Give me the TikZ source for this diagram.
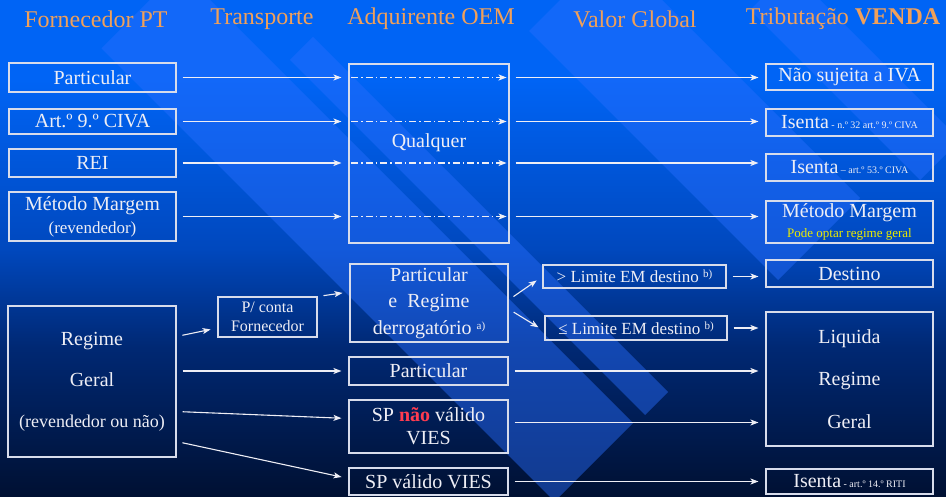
\documentclass[tikz,border=0pt]{standalone}
\usepackage{fontspec}
\setmainfont{Liberation Serif}
\usetikzlibrary{arrows.meta,positioning}

\definecolor{hdr}{RGB}{240,160,90}
\definecolor{txt}{RGB}{238,238,245}
\definecolor{edge}{RGB}{215,220,235}
\definecolor{bgtop}{RGB}{0,100,245}
\definecolor{bgmid}{RGB}{0,72,190}
\definecolor{bglow}{RGB}{0,40,115}
\definecolor{bgbot}{RGB}{0,16,50}
\definecolor{band}{RGB}{40,110,255}
\definecolor{warn}{RGB}{255,60,80}
\definecolor{note}{RGB}{235,235,0}

\pgfdeclareverticalshading{slide}{100bp}{color(0bp)=(bgbot); color(25bp)=(bgbot);
  color(40bp)=(bglow); color(50bp)=(bgmid); color(67bp)=(bgtop); color(75bp)=(bgtop); color(100bp)=(bgtop)}

\begin{document}
\begin{tikzpicture}[x=1pt, y=-1pt,
        box/.style = {draw = edge, line width = 1.1pt, text = txt, inner sep = 0pt, align = center},
        big/.style = {font = \fontsize{20}{24}\selectfont},
        lim/.style = {font = \fontsize{17}{20}\selectfont},
        head/.style = {text = hdr, font = \fontsize{24}{28}\selectfont},
        link/.style = {draw = txt, line width = 1.1pt, -{Stealth[length=8pt,width=6pt,inset=2pt]},
                       shorten <= 6pt, shorten >= 7pt},
        dlink/.style = {link, dash pattern = on 7pt off 3pt on 1.5pt off 3pt, shorten <= 3pt, shorten >= 3pt},
        stripe/.style = {fill = band, opacity = 0.45}]
    \useasboundingbox (0,0) rectangle (946,497);
    \begin{scope}
        \clip (0,0) rectangle (946,497);
        \fill[shading = slide] (0,0) rectangle (946,497);
        % diagonal bands
        \foreach \ta/\tb/\sa/\sb in {53/210/150/1056, 230/276/350/1060, 498/662/560/1058, 740/820/760/1100}
        \fill[stripe] ({(\sa+\ta)/2},{(\sa-\ta)/2}) -- ({(\sa+\tb)/2},{(\sa-\tb)/2})
            -- ({(\sb+\tb)/2},{(\sb-\tb)/2}) -- ({(\sb+\ta)/2},{(\sb-\ta)/2}) -- cycle;
    \end{scope}
    % column titles
    \node[head] (hfor) at (96,19) {Fornecedor PT};
    \node[head] (htra) at (262,19) {Transporte};
    \node[head] (hadq) at (431,19) {Adquirente OEM};
    \node[head] (hval) at (635,19) {Valor Global};
    \node[head] (htri) at (843,19) {Tributação \textbf{VENDA}};
    % Fornecedor PT
    \node[box, big, minimum width = 167pt, minimum height = 29pt] (fpa) at (92.5,77.5) {Particular};
    \node[box, big, minimum width = 167pt, minimum height = 25pt] (fart) at (92.5,121.5) {Art.º 9.º CIVA};
    \node[box, big, minimum width = 167pt, minimum height = 28pt] (frei) at (92.5,163) {REI};
    \node[box, font = \fontsize{20}{23}\selectfont, minimum width = 167pt, minimum height = 49pt] (fmm) at (92.5,216.5)
        {Método Margem\\{\fontsize{17}{23}\selectfont (revendedor)}};
    \node[box, font = \fontsize{20}{41}\selectfont, minimum width = 168pt, minimum height = 151pt] (frg) at (92,381.5)
        {Regime\\Geral\\{\fontsize{18}{41}\selectfont (revendedor ou não)}};
    % Transporte
    \node[box, font = \fontsize{16}{19}\selectfont, minimum width = 99pt, minimum height = 40pt] (tpc) at (267.5,317)
        {P/ conta\\Fornecedor};
    % Adquirente OEM
    \node[box, minimum width = 160pt, minimum height = 179pt] (aq) at (429,153.5) {};
    \node[big, text = txt] (aqt) at (429,143) {Qualquer};
    \node[box, font = \fontsize{20}{26.5}\selectfont, minimum width = 158pt, minimum height = 78pt] (aprd) at (429,303)
        {Particular\\e\ \ Regime\\derrogatório {\fontsize{11}{12}\selectfont\raisebox{5pt}{a)}}};
    \node[box, big, minimum width = 159pt, minimum height = 28pt] (apl) at (428.5,371) {Particular};
    \node[box, font = \fontsize{20}{23}\selectfont, minimum width = 159pt, minimum height = 53pt] (aspn) at (428.5,426.5)
        {SP \textcolor{warn}{\textbf{não}} válido\\VIES};
    \node[box, big, minimum width = 159pt, minimum height = 27pt] (aspv) at (428.5,481.5) {SP válido VIES};
    % Valor Global
    \node[box, lim, minimum width = 183pt, minimum height = 23pt] (vgt) at (634.5,276.5)
        {> Limite EM destino {\fontsize{11}{12}\selectfont\raisebox{5pt}{b)}}};
    \node[box, lim, minimum width = 182pt, minimum height = 24pt] (vle) at (636,328)
        {≤ Limite EM destino {\fontsize{11}{12}\selectfont\raisebox{5pt}{b)}}};
    % Tributacao VENDA
    \node[box, big, minimum width = 167pt, minimum height = 26pt] (tns) at (849.5,77) {Não sujeita a IVA};
    \node[box, minimum width = 167pt, minimum height = 27pt] (tis1) at (849.5,122.5)
        {{\fontsize{20}{24}\selectfont Isenta}{\fontsize{10}{12}\selectfont\ - n.º 32 art.º 9.º CIVA}};
    \node[box, minimum width = 167pt, minimum height = 27pt] (tis2) at (849.5,167.5)
        {{\fontsize{20}{24}\selectfont Isenta}{\fontsize{10}{12}\selectfont\ – art.º 53.º CIVA}};
    \node[box, font = \fontsize{20}{20}\selectfont, minimum width = 167pt, minimum height = 42pt] (tmm) at (849.5,222)
        {Método Margem\\{\color{note}\fontsize{13}{20}\selectfont Pode optar regime geral}};
    \node[box, big, minimum width = 167pt, minimum height = 27pt] (tdes) at (849.5,273.5) {Destino};
    \node[box, font = \fontsize{20}{42.5}\selectfont, minimum width = 167pt, minimum height = 134pt] (tliq) at (849.5,379)
        {Liquida\\Regime\\Geral};
    \node[box, minimum width = 167pt, minimum height = 25pt] (tis3) at (849.5,481.5)
        {{\fontsize{20}{24}\selectfont Isenta}{\fontsize{10}{12}\selectfont\ - art.º 14.º RITI}};
    % upper rows through Qualquer
    \foreach \src/\dst in {fpa/tns, fart/tis1, frei/tis2, fmm/tmm}{
        \draw[link] (\src.east) -- (\src.east -| aq.west);
        \draw[dlink] (\src.east -| aq.west) -- (\src.east -| aq.east);
        \draw[link] (\src.east -| aq.east) -- (\src.east -| \dst.west);
    }
    % regime geral
    \draw[link] ([yshift=45pt]frg.east) -- ([yshift=-11pt]tpc.west);
    \draw[link] (tpc.north east) -- ([yshift=11pt]aprd.west);
    \draw[link] (apl.west -| frg.east) -- (apl.west);
    \draw[link] ([yshift=-30pt]frg.east) -- ([yshift=8pt]aspn.west);
    \draw[link] ([yshift=-60pt]frg.east) -- ([yshift=3pt]aspv.west);
    % derrogatorio
    \draw[link] ([yshift=3pt]aprd.east) -- (vgt.west);
    \draw[link] ([yshift=-6pt]aprd.east) -- ([yshift=-3pt]vle.west);
    \draw[link] (vgt.east) -- (vgt.east -| tdes.west);
    \draw[link] (vle.east) -- (vle.east -| tliq.west);
    % to the right column
    \draw[link] (apl.east) -- (apl.east -| tliq.west);
    \draw[link] ([yshift=4pt]aspn.east) -- ([yshift=4pt]aspn.east -| tliq.west);
    \draw[link] (aspv.east) -- (aspv.east -| tis3.west);
\end{tikzpicture}
\end{document}
